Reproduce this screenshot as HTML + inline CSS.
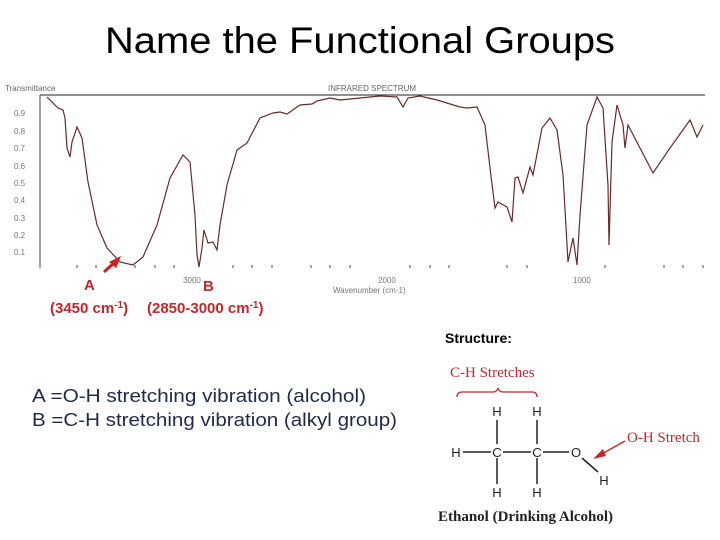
<!DOCTYPE html>
<html><head><meta charset="utf-8"><style>
body{margin:0;width:720px;height:540px;background:#fff;overflow:hidden;position:relative;font-family:"Liberation Sans",sans-serif}
</style></head><body>
<svg width="720" height="540" style="position:absolute;left:0;top:0">
<text x="360" y="53" text-anchor="middle" font-family="Liberation Sans" font-size="37" textLength="510" lengthAdjust="spacingAndGlyphs" fill="#000">Name the Functional Groups</text>
<text x="5" y="91" font-size="8" fill="#666">Transmittance</text>
<text x="328" y="91" font-size="8" fill="#666">INFRARED SPECTRUM</text>
<line x1="40" y1="95" x2="705" y2="95" stroke="#222" stroke-width="1"/>
<line x1="40" y1="95" x2="40" y2="268" stroke="#444" stroke-width="1"/>
<g font-size="8" fill="#777">
<text x="14" y="116">0.9</text><text x="14" y="134">0.8</text><text x="14" y="151">0.7</text><text x="14" y="169">0.6</text><text x="14" y="186">0.5</text><text x="14" y="203">0.4</text><text x="14" y="221">0.3</text><text x="14" y="238">0.2</text><text x="14" y="255">0.1</text>
<text x="183" y="283">3000</text><text x="378" y="283">2000</text><text x="573" y="283">1000</text>
<text x="333" y="293">Wavenumber (cm-1)</text>
</g>
<g stroke="#444" stroke-width="1">
<line x1="77" y1="265" x2="77" y2="268"/><line x1="96" y1="265" x2="96" y2="268"/><line x1="116" y1="265" x2="116" y2="268"/><line x1="135" y1="265" x2="135" y2="268"/><line x1="155" y1="265" x2="155" y2="268"/><line x1="174" y1="265" x2="174" y2="268"/><line x1="233" y1="265" x2="233" y2="268"/><line x1="252" y1="265" x2="252" y2="268"/><line x1="272" y1="265" x2="272" y2="268"/><line x1="311" y1="265" x2="311" y2="268"/><line x1="330" y1="265" x2="330" y2="268"/><line x1="350" y1="265" x2="350" y2="268"/><line x1="410" y1="265" x2="410" y2="268"/><line x1="430" y1="265" x2="430" y2="268"/><line x1="449" y1="265" x2="449" y2="268"/><line x1="507" y1="265" x2="507" y2="268"/><line x1="527" y1="265" x2="527" y2="268"/><line x1="605" y1="265" x2="605" y2="268"/><line x1="664" y1="265" x2="664" y2="268"/><line x1="683" y1="265" x2="683" y2="268"/><line x1="703" y1="265" x2="703" y2="268"/>
</g>
<polyline fill="none" stroke="#6b2a2a" stroke-width="1.2" points="47,97 58,108 63,110 65,118 67,148 70,157 72,142 77,127 82,138 88,182 97,225 107,248 120,262 133,265 143,257 157,225 170,178 183,155 190,162 195,215 197,255 199,267 202,248 204,230 208,243 213,242 217,250 220,225 227,185 237,150 247,143 260,118 273,113 280,112 287,114 300,105 312,104 317,101 330,98 340,100 360,98 380,96 397,97 403,107 408,98 420,96 437,100 460,107 467,108 477,107 485,125 490,168 495,208 498,202 507,207 512,222 515,178 518,177 523,193 530,167 533,175 542,128 550,118 557,130 563,175 568,262 573,238 577,265 580,215 587,125 597,97 603,108 608,185 609,245 612,142 617,105 623,125 625,148 628,125 653,173 670,148 690,120 697,137 703,125"/>
<g fill="#c0282a" font-weight="bold" font-size="15">
<text x="84" y="290">A</text><text x="203" y="291">B</text>
<text x="50" y="313">(3450 cm<tspan font-size="10" dy="-5">-1</tspan><tspan dy="5">)</tspan></text>
<text x="147" y="313">(2850-3000 cm<tspan font-size="10" dy="-5">-1</tspan><tspan dy="5">)</tspan></text>
</g>
<line x1="104" y1="272" x2="114" y2="263" stroke="#d02020" stroke-width="3"/>
<polygon points="121,256 109,262 116,268" fill="#d02020"/>
<text x="445" y="343" font-size="14" font-weight="bold" fill="#000">Structure:</text>
<g font-size="18" fill="#1f2a4a">
<text x="32" y="402" textLength="334" lengthAdjust="spacingAndGlyphs">A =O-H stretching vibration (alcohol)</text>
<text x="32" y="426" textLength="365" lengthAdjust="spacingAndGlyphs">B =C-H stretching vibration (alkyl group)</text>
</g>
<g font-family="Liberation Serif" fill="#c0282a" font-size="15">
<text x="450" y="377">C-H Stretches</text>
<text x="627" y="442">O-H Stretch</text>
</g>
<path d="M457,397 Q457,392 462,392 L493,392 Q497,392 498,388 Q499,392 503,392 L532,392 Q537,392 537,397" fill="none" stroke="#c0282a" stroke-width="1.3"/>
<line x1="625" y1="441" x2="600" y2="455" stroke="#c0282a" stroke-width="1.5"/>
<polygon points="593,459 603,449 606,456" fill="#c0282a"/>
<g font-size="13" fill="#222" text-anchor="middle">
<text x="497" y="416">H</text><text x="537" y="416">H</text>
<text x="497" y="457">C</text><text x="537" y="457">C</text>
<text x="456" y="457">H</text><text x="576" y="457">O</text>
<text x="604" y="485">H</text>
<text x="497" y="497">H</text><text x="537" y="497">H</text>
</g>
<g stroke="#222" stroke-width="1.5">
<line x1="497" y1="420" x2="497" y2="444"/><line x1="537" y1="420" x2="537" y2="444"/>
<line x1="497" y1="458" x2="497" y2="484"/><line x1="537" y1="458" x2="537" y2="484"/>
<line x1="463" y1="452" x2="491" y2="452"/><line x1="503" y1="452" x2="531" y2="452"/><line x1="543" y1="452" x2="569" y2="452"/>
<line x1="582" y1="458" x2="598" y2="472"/>
</g>
<text x="438" y="521" font-family="Liberation Serif" font-weight="bold" font-size="15" fill="#222">Ethanol (Drinking Alcohol)</text>
</svg>
</body></html>
